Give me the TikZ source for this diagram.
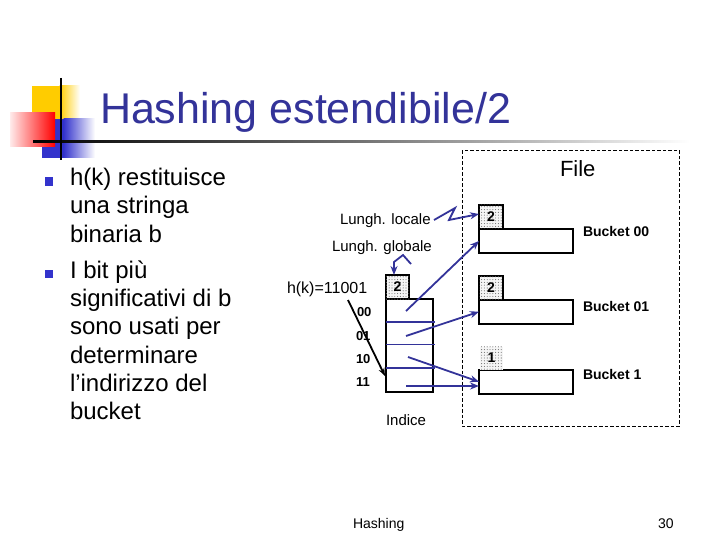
\documentclass[tikz,border=0pt]{standalone}
\usepackage{fontspec}
\setmainfont{Liberation Sans}
\usetikzlibrary{arrows.meta,patterns.meta}
\definecolor{navy}{RGB}{51,51,153}
\definecolor{bulletblue}{RGB}{51,51,204}
\definecolor{decyellow}{RGB}{255,204,0}
\definecolor{decblue}{RGB}{51,51,204}
\definecolor{decred}{RGB}{255,0,0}
\begin{document}
\begin{tikzpicture}[x=1pt,y=-1pt,
  txt/.style={inner sep=0pt,outer sep=0pt,anchor=base west},
  box/.style={draw,line width=2pt,inner sep=0pt,outer sep=0pt,anchor=north west},
  stip/.style={fill=gray!8,postaction={pattern={Dots[radius=0.55pt,distance=2.8pt]},pattern color=gray!90!black}},
  blarrow/.style={draw=navy,line width=1.8pt,-{Stealth[length=9pt,width=7pt]}},
  body/.style={txt,font=\fontsize{24}{28}\selectfont},
  small/.style={txt,font=\fontsize{15}{18}\selectfont},
  lab/.style={txt,font=\fontsize{14}{16}\selectfont\bfseries},
  rowlab/.style={txt,font=\fontsize{13}{15}\selectfont\bfseries},
  num/.style={font=\fontsize{14}{16}\selectfont\bfseries},
]
\useasboundingbox (0,0) rectangle (720,540);
% title decoration
\fill[decyellow] (32,86) rectangle (60,119);
\shade[left color=decyellow,right color=white] (59.5,86) rectangle (80,119);
\fill[decblue] (42,119) rectangle (64,158);
\shade[left color=decblue,right color=white] (63.5,119) rectangle (95,158);
\shade[left color=red!8,right color=decred] (10,113) rectangle (55,147);
\shade[left color=black,right color=white,middle color=black!55] (33,140.2) rectangle (690,142.2);
\draw[line width=2.2pt,black] (61,78) -- (61,160);
% title
\node[txt,text=navy,font=\fontsize{43}{50}\selectfont] (title) at (100,123.3) {Hashing estendibile/2};
% bullets
\node[fill=bulletblue,minimum size=8.5pt,inner sep=0pt,anchor=north west] (bul1) at (44.5,177) {};
\node[fill=bulletblue,minimum size=8.5pt,inner sep=0pt,anchor=north west] (bul2) at (44.5,269.5) {};
\node[body] (l1) at (70,185.5) {h(k) restituisce};
\node[body] (l2) at (70,213.8) {una stringa};
\node[body] (l3) at (70,242) {binaria b};
\node[body] (l4) at (70,278) {I bit più};
\node[body] (l5) at (70,306.5) {significativi di b};
\node[body] (l6) at (70,334.8) {sono usati per};
\node[body] (l7) at (70,363) {determinare};
\node[body] (l8) at (70,391.3) {l’indirizzo del};
\node[body] (l9) at (70,419.5) {bucket};
% file area
\draw[line width=0.9pt,dash pattern=on 3.5pt off 2pt] (462,150.5) rectangle (679,426);
\node[txt,font=\fontsize{22}{26}\selectfont] (file) at (560,176.7) {File};
% buckets
\node[box,minimum width=94pt,minimum height=24pt] (b00) at (479,229) {};
\node[box,stip,minimum width=24pt,minimum height=24pt,num] (b00s) at (479,205) {2};
\node[box,minimum width=94pt,minimum height=23.5pt] (b01) at (479,300) {};
\node[box,stip,minimum width=24pt,minimum height=24pt,num] (b01s) at (479,276) {2};
\node[box,minimum width=94pt,minimum height=23.5pt] (b1) at (479,370) {};
\node[stip,inner sep=0pt,outer sep=0pt,anchor=north west,minimum width=23pt,minimum height=23pt,num] (b1s) at (480,346.5) {1};
\node[lab] (lb00) at (583,236.7) {Bucket 00};
\node[lab] (lb01) at (583,311.7) {Bucket 01};
\node[lab] (lb1) at (583,379.3) {Bucket 1};
% index
\node[box,minimum width=47pt,minimum height=93pt] (idx) at (386,299) {};
\node[box,stip,minimum width=23pt,minimum height=24pt,num] (idx2) at (386,275) {2};
\draw[navy,line width=1.8pt] (386,322) -- (435,322);
\draw[navy,line width=1.8pt] (386,344.5) -- (435,344.5);
\draw[navy,line width=1.8pt] (386,368) -- (435,368);
\node[rowlab] (r00) at (357,316.7) {00};
\node[rowlab] (r01) at (356,340) {01};
\node[rowlab] (r10) at (356,363.3) {10};
\node[rowlab] (r11) at (356,386) {11};
\node[txt,font=\fontsize{15}{18}\selectfont] (indice) at (386,425) {Indice};
% labels
\node[small] (loc) at (340,225) {Lungh. locale};
\node[small] (glob) at (332,251.5) {Lungh. globale};
\node[txt,font=\fontsize{16}{19}\selectfont] (hk) at (287,293) {h(k)=11001};
% connectors
\coordinate (s00) at (406,311);
\coordinate (s01) at (406,336);
\coordinate (s10) at (408,357);
\coordinate (s11) at (406,386);
\coordinate (t11) at (479,386);
\coordinate (z1s) at (434,220);
\coordinate (z2s) at (411,264);
\coordinate (hks) at (348,300);
\coordinate (hke) at (385,376);
\draw[blarrow] (s00) -- (b00.west);
\draw[blarrow] (s01) -- (b01.west);
\draw[blarrow] (s10) -- (b1.west);
\draw[blarrow] (s11) -- (t11);
\draw[blarrow] (z1s) -- (455,208) -- (449,220) -- ([yshift=3pt]b00s.west);
\draw[blarrow] (z2s) -- (403,255) -- (394,262) -- ([xshift=-3.5pt]idx2.north);
\draw[black,line width=1.8pt,-{Stealth[length=8pt,width=6pt]}] (hks) -- (hke);
% footer
\node[txt,font=\fontsize{14}{16}\selectfont] (foot) at (353,528.3) {Hashing};
\node[txt,font=\fontsize{14}{16}\selectfont] (page) at (658,528.3) {30};
\end{tikzpicture}
\end{document}
